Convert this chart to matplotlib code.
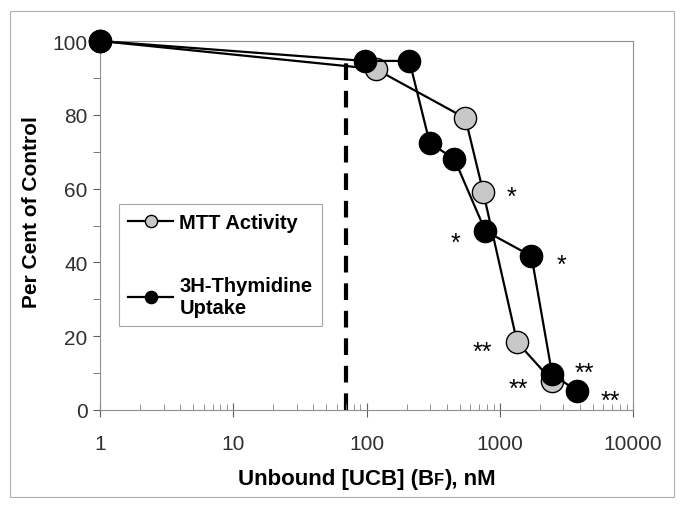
import numpy as np
import matplotlib
matplotlib.use("Agg")
import matplotlib.pyplot as plt
from matplotlib.patches import Rectangle

plt.rcParams['font.family'] = ['Liberation Sans', 'DejaVu Sans']

# MTT activity (grey circles)
mtt_x = [1, 117, 552, 752, 1350, 2470]
mtt_y = [100, 92.4, 79.1, 59.0, 18.4, 7.9]

# 3H-thymidine uptake (black circles)
thy_x = [1, 97, 210, 298, 457, 780, 1730, 2470, 3800]
thy_y = [100, 94.6, 94.6, 72.4, 68.0, 48.5, 41.7, 9.8, 5.1]

# significance marks
star_x = [1219, 464, 2890, 739, 1376, 4300, 6740]
star_y = [59.9, 47.4, 41.5, 17.9, 7.9, 12.2, 4.6]
star_t = ["*", "*", "*", "**", "**", "**", "**"]

# dashed reference line (unbound UCB threshold)
ref_x = 70
ref_top = 96

W, H = 685, 510
fig = plt.figure(figsize=(W/100, H/100), dpi=100)
fig.patches.append(Rectangle((10/W, 12/H), 664/W, 486/H, transform=fig.transFigure,
                             fill=False, edgecolor='#b0b0b0', lw=0.8))

ax = fig.add_axes((100/W, 99/H, 533/W, 369/H))
ax.set_xscale('log')
ax.set_xlim(1, 10000)
ax.set_ylim(0, 100)

ax.plot([ref_x, ref_x], [0, ref_top], color='k', lw=3, dashes=(4, 2.6), zorder=1)

ax.plot(mtt_x, mtt_y, color='k', lw=1.6, marker='o', ms=16, mfc='#c8c8c8',
        mec='k', mew=1.0, label='MTT Activity', zorder=3, clip_on=False)
ax.plot(thy_x, thy_y, color='k', lw=1.6, marker='o', ms=16, mfc='k',
        mec='k', label='3H-Thymidine\nUptake', zorder=4, clip_on=False)

for x, y, t in zip(star_x, star_y, star_t):
    ax.annotate(t, (x, y), xytext=(0, -10.5), textcoords='offset points',
                fontsize=18, ha='center', va='baseline', zorder=5)

for s in ax.spines.values():
    s.set_color('#909090')
    s.set_linewidth(0.8)

ax.set_yticks(np.arange(0, 101, 20))
ax.set_yticks(np.arange(0, 101, 10), minor=True)
ax.set_xticks([1, 10, 100, 1000, 10000])
ax.set_xticklabels(['1', '10', '100', '1000', '10000'])
ax.tick_params(axis='y', which='both', direction='out', length=5, color='#606060',
               labelsize=15, labelcolor='#303030', pad=4)
ax.tick_params(axis='x', which='major', direction='inout', length=10, color='#606060',
               labelsize=15, labelcolor='#303030', pad=12)
ax.tick_params(axis='x', which='minor', direction='in', length=4, color='#808080')

ax.text(-0.128, 0.539, 'Per Cent of Control', transform=ax.transAxes, rotation=90,
        ha='center', va='center', fontsize=15, fontweight='bold')

# x label with a small "F" in (BF)
parts = [("Unbound [UCB] (B", 16), ("F", 12), ("), nM", 16)]
renderer = fig.canvas.get_renderer()
texts = []
for s, fs in parts:
    t = fig.text(0, 0, s, fontsize=fs, fontweight='bold', va='baseline', ha='left')
    texts.append(t)
widths = [t.get_window_extent(renderer).width for t in texts]
x0 = (100 + 633) / 2 - sum(widths) / 2
for t, w in zip(texts, widths):
    t.set_position((x0 / W, (H - 485) / H))
    x0 += w

leg = ax.legend(loc='upper left', bbox_to_anchor=(19/533, (411-205)/369), frameon=True,
                fancybox=False, edgecolor='#909090', markerscale=0.55,
                handlelength=2.25, handletextpad=0.3, labelspacing=2.2,
                borderpad=0.45, borderaxespad=0,
                prop={'size': 14.5, 'weight': 'bold'})
leg.get_frame().set_linewidth(0.8)

plt.savefig("out.png", dpi=100)
